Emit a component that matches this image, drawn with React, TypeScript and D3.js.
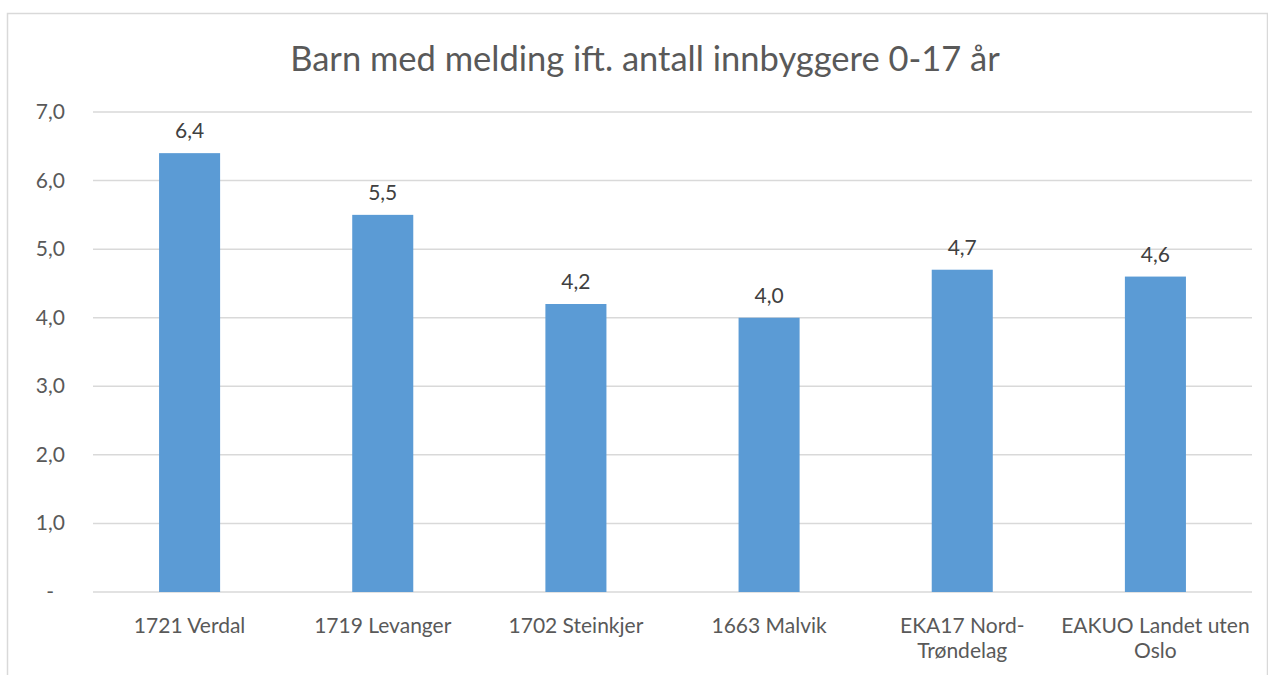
import * as d3 from "d3";
import { useEffect, useRef } from "react";

const categories = [
  "1721 Verdal",
  "1719 Levanger",
  "1702 Steinkjer",
  "1663 Malvik",
  "EKA17 Nord-Trøndelag",
  "EAKUO Landet uten Oslo",
];
const values = [6.4, 5.5, 4.2, 4.0, 4.7, 4.6];
const yTicks = [0, 1, 2, 3, 4, 5, 6, 7];
const title = "Barn med melding ift. antall innbyggere 0-17 år";

const W = 1268;
const H = 675;
const FONT = "Lato, 'Open Sans', sans-serif";

const fmt = (v: number) => (v === 0 ? "-" : v.toFixed(1).replace(".", ","));

const App = () => {
  const ref = useRef<SVGSVGElement>(null);

  useEffect(() => {
    const svg = d3.select(ref.current);
    svg.selectAll("*").remove();

    const margin = { left: 93, right: 16, top: 112, bottom: 83 };

    svg.append("rect")
      .attr("x", 7.5).attr("y", 13.5)
      .attr("width", 1260).attr("height", 700)
      .attr("fill", "white")
      .attr("stroke", "#d9d9d9")
      .attr("stroke-width", 1.5);

    const x = d3.scaleBand<string>()
      .domain(categories)
      .range([margin.left, W - margin.right])
      .paddingInner(0.684)
      .paddingOuter(0.342);

    const y = d3.scaleLinear()
      .domain([0, 7])
      .range([H - margin.bottom, margin.top]);

    // title
    svg.append("text")
      .attr("x", 645).attr("y", 71)
      .attr("text-anchor", "middle")
      .attr("font-family", FONT)
      .attr("font-size", 34.5)
      .attr("fill", "#595959")
      .text(title);

    // gridlines
    svg.append("g")
      .selectAll("line")
      .data(yTicks)
      .enter()
      .append("line")
      .attr("x1", margin.left).attr("x2", W - margin.right)
      .attr("y1", d => y(d)).attr("y2", d => y(d))
      .attr("stroke", "#d9d9d9")
      .attr("stroke-width", 1.5);

    // y labels
    svg.append("g")
      .selectAll("text")
      .data(yTicks)
      .enter()
      .append("text")
      .attr("x", d => (d === 0 ? 54 : 65))
      .attr("y", d => y(d) + 7)
      .attr("text-anchor", "end")
      .attr("font-family", FONT)
      .attr("font-size", 21)
      .attr("fill", "#595959")
      .text(d => fmt(d));

    // bars
    svg.append("g")
      .selectAll("rect")
      .data(values)
      .enter()
      .append("rect")
      .attr("x", (d, i) => x(categories[i]) as number)
      .attr("y", d => y(d))
      .attr("width", x.bandwidth())
      .attr("height", d => y(0) - y(d))
      .attr("fill", "#5b9bd5");

    // value labels
    svg.append("g")
      .selectAll("text")
      .data(values)
      .enter()
      .append("text")
      .attr("x", (d, i) => (x(categories[i]) as number) + x.bandwidth() / 2)
      .attr("y", d => y(d) - 15)
      .attr("text-anchor", "middle")
      .attr("font-family", FONT)
      .attr("font-size", 21)
      .attr("fill", "#404040")
      .text(d => fmt(d));

    // category labels, wrapped to the step width (breaks at spaces and hyphens)
    const maxW = x.step();
    const labels = svg.append("g")
      .selectAll("text")
      .data(categories)
      .enter()
      .append("text")
      .attr("x", d => (x(d) as number) + x.bandwidth() / 2)
      .attr("y", 633)
      .attr("text-anchor", "middle")
      .attr("font-family", FONT)
      .attr("font-size", 21)
      .attr("fill", "#595959");

    labels.each(function (d) {
      const t = d3.select(this);
      const cx = t.attr("x");
      const tokens = d.match(/[^\s-]+-?\s*/g) || [d];
      let line = "";
      let tspan = t.append("tspan").attr("x", cx).attr("dy", 0);
      tokens.forEach(tok => {
        const trial = line + tok;
        tspan.text(trial.trim());
        const node = tspan.node() as SVGTSpanElement;
        if (node.getComputedTextLength() > maxW && line.length > 0) {
          tspan.text(line.trim());
          line = tok;
          tspan = t.append("tspan").attr("x", cx).attr("dy", 25).text(tok.trim());
        } else {
          line = trial;
        }
      });
    });
  }, []);

  return (
    <svg
      ref={ref}
      width={W}
      height={H}
      style={{ position: "absolute", left: 0, top: 0, background: "white" }}
    />
  );
};

export default App;
